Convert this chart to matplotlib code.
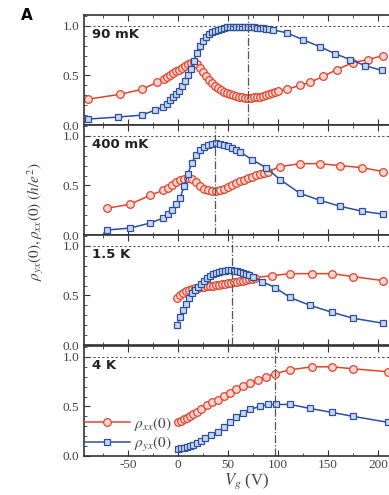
import numpy as np
import matplotlib
matplotlib.use('Agg')
import matplotlib.pyplot as plt
from matplotlib.ticker import MultipleLocator


# --------------------------- DATA -------------------------------
temps = ['90 mK', '400 mK', '1.5 K', '4 K']
peak_vg = [70, 37, 54, 97]  # [V] position of the dash-dot marker line

# 90 mK
vg_xx_1 = [-90, -58, -36, -21, -14, -11, -8, -5, -2, 1, 4, 7, 10, 13, 16, 19, 22, 25, 28, 31, 34, 37, 40,
           43, 46, 49, 52, 55, 58, 61, 64, 67, 70, 73, 76, 79, 82, 85, 88, 91, 94, 97, 100, 109, 122, 132,
           145, 159, 175, 190, 205]
rho_xx_1 = [.26, .31, .36, .43, .46, .48, .50, .52, .54, .56, .58, .60, .62, .63, .635, .62, .58, .53, .49,
            .45, .42, .39, .37, .35, .33, .32, .31, .30, .29, .285, .28, .275, .275, .275, .28, .28, .285,
            .29, .30, .31, .32, .33, .34, .36, .40, .43, .49, .56, .63, .66, .70]
vg_yx_1 = [-90, -60, -36, -23, -15, -11, -8, -5, -2, 1, 4, 7, 10, 13, 16, 19, 22, 25, 28, 31, 34, 37, 40,
           43, 46, 49, 52, 55, 58, 61, 64, 67, 70, 73, 76, 79, 82, 85, 88, 91, 95, 109, 125, 142, 157, 172,
           187, 204]
rho_yx_1 = [.06, .08, .10, .15, .18, .21, .25, .28, .31, .34, .39, .44, .50, .57, .65, .73, .80, .85, .89,
            .92, .94, .95, .96, .97, .98, .985, .99, .99, .99, .99, .99, .99, .99, .99, .985, .98, .98,
            .975, .97, .97, .96, .93, .86, .79, .72, .66, .60, .55]

# 400 mK
vg_xx_2 = [-71, -48, -28, -15, -10, -6, -2, 2, 6, 10, 14, 18, 22, 26, 30, 34, 38, 42, 46, 50, 54, 58, 62,
           66, 70, 74, 78, 82, 86, 90, 102, 122, 142, 162, 184, 205]
rho_xx_2 = [.27, .31, .40, .45, .47, .50, .53, .55, .57, .58, .57, .53, .49, .46, .45, .44, .44, .45, .46,
            .48, .50, .52, .54, .56, .58, .59, .61, .62, .63, .64, .69, .72, .72, .70, .68, .64]
vg_yx_2 = [-71, -48, -28, -15, -10, -6, -2, 2, 6, 10, 14, 18, 22, 26, 30, 34, 38, 42, 46, 50, 54, 58, 62,
           74, 88, 102, 122, 142, 162, 184, 205]
rho_yx_2 = [.05, .07, .12, .17, .21, .25, .31, .37, .49, .62, .73, .81, .86, .89, .91, .92, .93, .92, .91,
            .90, .88, .86, .84, .76, .68, .56, .42, .35, .29, .24, .21]

# 1.5 K
vg_xx_3 = [-1, 2, 5, 8, 11, 14, 17, 20, 23, 26, 29, 32, 35, 38, 41, 44, 47, 50, 53, 56, 59, 62, 65, 68,
           71, 74, 77, 94, 112, 134, 154, 175, 205]
rho_xx_3 = [.47, .50, .52, .54, .56, .57, .575, .58, .585, .59, .595, .60, .60, .605, .61, .615, .62, .625,
            .63, .635, .64, .645, .65, .66, .665, .67, .68, .70, .72, .72, .72, .69, .65]
vg_yx_3 = [-1, 2, 5, 8, 11, 14, 17, 20, 23, 26, 29, 32, 35, 38, 41, 44, 47, 50, 53, 56, 59, 62, 65, 68,
           71, 75, 84, 97, 112, 132, 154, 175, 205]
rho_yx_3 = [.20, .28, .35, .41, .47, .52, .56, .59, .62, .65, .68, .70, .72, .73, .74, .75, .75, .76, .76,
            .75, .75, .74, .73, .72, .71, .69, .64, .58, .48, .40, .33, .27, .22]

# 4 K
vg_xx_4 = [0, 3, 6, 9, 12, 15, 19, 23, 29, 34, 40, 46, 52, 58, 65, 72, 80, 88, 97, 112, 134, 154, 175, 210]
rho_xx_4 = [.34, .35, .37, .38, .40, .42, .44, .47, .51, .54, .57, .61, .64, .68, .71, .74, .77, .80, .83,
            .87, .90, .90, .88, .85]
vg_yx_4 = [0, 3, 6, 9, 12, 15, 19, 23, 27, 33, 40, 46, 52, 58, 65, 72, 82, 90, 98, 112, 132, 154, 175, 210]
rho_yx_4 = [.07, .08, .085, .09, .10, .11, .13, .15, .18, .21, .24, .29, .34, .39, .43, .47, .50, .52, .52,
            .52, .48, .44, .40, .34]

vg_xx = [vg_xx_1, vg_xx_2, vg_xx_3, vg_xx_4]
rho_xx = [rho_xx_1, rho_xx_2, rho_xx_3, rho_xx_4]
vg_yx = [vg_yx_1, vg_yx_2, vg_yx_3, vg_yx_4]
rho_yx = [rho_yx_1, rho_yx_2, rho_yx_3, rho_yx_4]


# --------------------------- STYLE -------------------------------
red = '#e2432c'
blue = '#2c4f9e'
grey = '#444444'
plt.rcParams['font.family'] = ['Liberation Serif', 'DejaVu Serif']
plt.rcParams['mathtext.fontset'] = 'stix'
plt.rcParams['axes.unicode_minus'] = False  # original uses a plain hyphen

W, H = 389, 495
fig = plt.figure(figsize=(W / 100, H / 100), dpi=100)

left_px, right_px = 84, 393   # right edge lies outside the picture (cropped like the original)
tops_px = [15, 125, 235, 346]
panel_h = 110

axes = []
for i in range(4):
    top = tops_px[i]
    ax = fig.add_axes([left_px / W, 1 - (top + panel_h) / H, (right_px - left_px) / W, panel_h / H])
    axes.append(ax)

    ax.plot(vg_xx[i], rho_xx[i], '-o', color=red, lw=1.1, ms=5.5, mfc='#f7d6cf', mec=red, mew=0.9,
            label=r'$\rho_{xx}(0)$')
    ax.plot(vg_yx[i], rho_yx[i], '-s', color=blue, lw=1.1, ms=5, mfc='#c9d8f0', mec=blue, mew=0.9,
            label=r'$\rho_{yx}(0)$')

    ax.axhline(1.0, color='#555555', ls=(0, (2, 2)), lw=0.8)
    ax.axvline(peak_vg[i], color='#555555', ls='-.', lw=0.9)

    ax.set_xlim(-94, 215)
    ax.set_ylim(0, 1.11)
    ax.xaxis.set_major_locator(MultipleLocator(50))
    ax.xaxis.set_minor_locator(MultipleLocator(25))
    ax.yaxis.set_major_locator(MultipleLocator(0.5))
    ax.yaxis.set_minor_locator(MultipleLocator(0.1))
    ax.tick_params(which='both', direction='in', top=True, right=False, colors='#333333',
                   labelcolor=grey, labelsize=9.5)
    ax.tick_params(which='major', length=4)
    ax.tick_params(which='minor', length=2)
    ax.tick_params(axis='x', pad=2)
    ax.set_yticks([0, 0.5, 1.0])
    ax.set_yticklabels(['0.0', '0.5', '1.0'])
    for sp in ax.spines.values():
        sp.set_color('#333333')
        sp.set_linewidth(1.2)
    if i < 3:
        ax.tick_params(labelbottom=False)

    ax.text(0.026, 0.82, temps[i], transform=ax.transAxes, fontsize=9.5, fontweight='bold',
            family='DejaVu Sans', color='#222222', va='center', ha='left')

axes[3].legend(loc='lower left', bbox_to_anchor=(0.0, 0.02), frameon=False, numpoints=1,
               handlelength=3.0, handletextpad=0.25, labelspacing=0.15, borderpad=0, borderaxespad=0,
               fontsize=11, labelcolor=grey)

fig.text(27 / W, 1 - 15 / H, 'A', fontsize=11, fontweight='bold', family='DejaVu Sans',
         ha='center', va='center')
fig.text(36 / W, 1 - 222 / H, r'$\rho_{yx}(0), \rho_{xx}(0)\ (h/e^2)$', rotation=90, fontsize=11,
         color=grey, ha='center', va='center')
fig.text(247 / W, 1 - 481 / H, r'$V_g$ (V)', fontsize=12, color=grey, ha='center', va='center')

fig.savefig('out.png', dpi=100)
